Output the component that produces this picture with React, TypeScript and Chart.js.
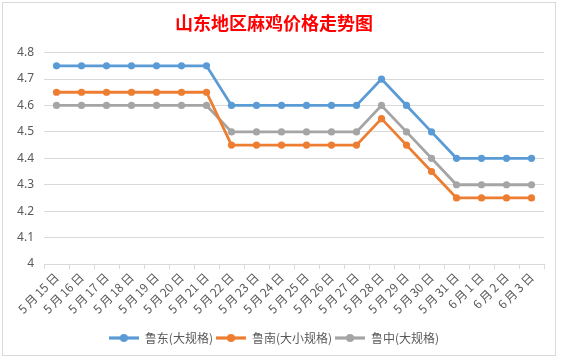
import React, { useEffect, useRef } from "react";
import { Chart, registerables } from "chart.js";

Chart.register(...registerables);

const categories = [
  "5月15日", "5月16日", "5月17日", "5月18日", "5月19日", "5月20日", "5月21日",
  "5月22日", "5月23日", "5月24日", "5月25日", "5月26日", "5月27日", "5月28日",
  "5月29日", "5月30日", "5月31日", "6月1日", "6月2日", "6月3日",
];
const ludong = [4.75, 4.75, 4.75, 4.75, 4.75, 4.75, 4.75, 4.6, 4.6, 4.6, 4.6, 4.6, 4.6, 4.7, 4.6, 4.5, 4.4, 4.4, 4.4, 4.4];
const lunan = [4.65, 4.65, 4.65, 4.65, 4.65, 4.65, 4.65, 4.45, 4.45, 4.45, 4.45, 4.45, 4.45, 4.55, 4.45, 4.35, 4.25, 4.25, 4.25, 4.25];
const luzhong = [4.6, 4.6, 4.6, 4.6, 4.6, 4.6, 4.6, 4.5, 4.5, 4.5, 4.5, 4.5, 4.5, 4.6, 4.5, 4.4, 4.3, 4.3, 4.3, 4.3];
const seriesNames = ["鲁东(大规格)", "鲁南(大小规格)", "鲁中(大规格)"];
const seriesColors = ["#5B9BD5", "#ED7D31", "#A5A5A5"];
const titleText = "山东地区麻鸡价格走势图";

function legendIcon(color: string): HTMLCanvasElement {
  const c = document.createElement("canvas");
  c.width = 30;
  c.height = 10;
  const ctx = c.getContext("2d")!;
  ctx.strokeStyle = color;
  ctx.lineWidth = 3.2;
  ctx.beginPath();
  ctx.moveTo(0, 5);
  ctx.lineTo(30, 5);
  ctx.stroke();
  ctx.fillStyle = color;
  ctx.beginPath();
  ctx.arc(15, 5, 4, 0, Math.PI * 2);
  ctx.fill();
  return c;
}

const framePlugin = {
  id: "frame",
  beforeDraw(chart: any) {
    const ctx = chart.ctx;
    ctx.save();
    ctx.fillStyle = "#ffffff";
    ctx.fillRect(0, 0, chart.width, chart.height);
    ctx.strokeStyle = "#d9d9d9";
    ctx.lineWidth = 1;
    ctx.strokeRect(2.5, 2.5, 553, 353);
    ctx.restore();
  },
};

export default function App() {
  const ref = useRef<HTMLCanvasElement>(null);
  useEffect(() => {
    if (!ref.current) return;
    const data = [ludong, lunan, luzhong];
    const chart = new Chart(ref.current, {
      type: "line",
      data: {
        labels: categories,
        datasets: data.map((d, i) => ({
          label: seriesNames[i],
          data: d,
          borderColor: seriesColors[i],
          backgroundColor: seriesColors[i],
          borderWidth: 2.8,
          pointRadius: 3.6,
          pointBackgroundColor: seriesColors[i],
          pointBorderColor: seriesColors[i],
          pointBorderWidth: 0,
          tension: 0,
        })),
      },
      options: {
        animation: false,
        responsive: false,
        maintainAspectRatio: false,
        layout: { padding: { left: 4, right: 17, top: 4, bottom: 8 } },
        plugins: {
          tooltip: { enabled: false },
          title: {
            display: true,
            text: titleText,
            color: "#FF0000",
            font: { family: "'Noto Sans CJK SC', sans-serif", size: 18, weight: "bold" },
            padding: { top: 8, bottom: 19 },
          },
          legend: {
            position: "bottom",
            labels: {
              color: "#595959",
              font: { family: "'Noto Sans CJK SC', sans-serif", size: 12 },
              usePointStyle: true,
              pointStyleWidth: 30,
              boxHeight: 10,
              padding: 3,
              generateLabels(chart: any) {
                const items = Chart.defaults.plugins.legend.labels.generateLabels(chart);
                return items.map((it: any, i: number) => ({ ...it, pointStyle: legendIcon(seriesColors[i]) }));
              },
            },
          },
        },
        scales: {
          x: {
            offset: true,
            grid: {
              offset: true,
              drawOnChartArea: false,
              drawTicks: true,
              tickLength: 5,
              color: "#d9d9d9",
            },
            border: { color: "#d9d9d9" },
            ticks: {
              color: "#595959",
              font: { family: "'Noto Sans CJK SC', sans-serif", size: 12 },
              maxRotation: 45,
              minRotation: 45,
              autoSkip: false,
              padding: 1,
              callback(this: any, value: any) {
                const s = String(this.getLabelForValue(value));
                return s.replace(/(\d+)月(\d+)日/, "$1\u2009月\u2009$2\u2009日");
              },
            },
            afterFit(scale: any) {
              scale.height = 65;
            },
          },
          y: {
            min: 4,
            max: 4.8,
            ticks: {
              stepSize: 0.1,
              color: "#595959",
              font: { family: "'Noto Sans', sans-serif", size: 12 },
              padding: 10,
              callback(value: any) {
                return String(Math.round(Number(value) * 10) / 10);
              },
            },
            grid: { color: "#d9d9d9", drawTicks: false },
            border: { display: false },
            afterFit(scale: any) {
              scale.width = 40;
            },
          },
        },
      },
      plugins: [framePlugin],
    });
    return () => chart.destroy();
  }, []);
  return (
    <div style={{ position: "fixed", left: 0, top: 0, width: 561, height: 362, background: "#fff" }}>
      <canvas ref={ref} width={561} height={362} style={{ display: "block", width: 561, height: 362 }} />
    </div>
  );
}
